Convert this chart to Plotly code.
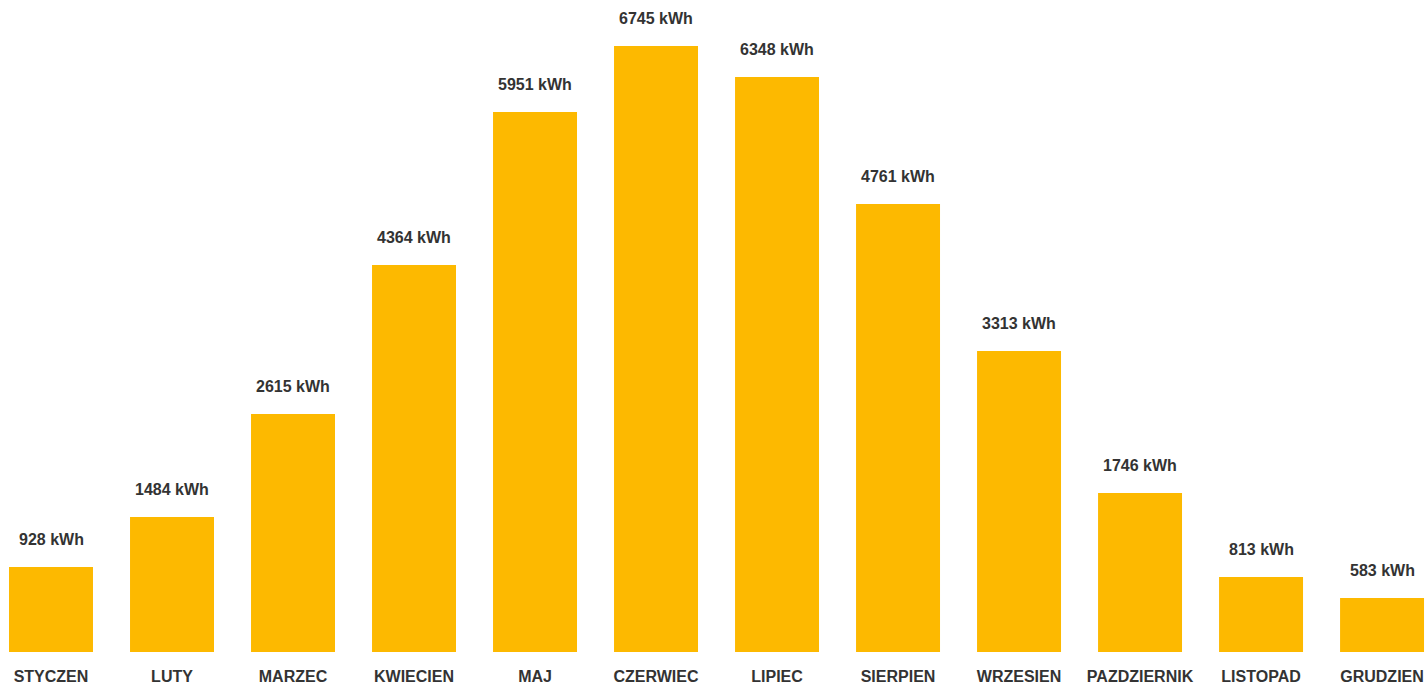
import plotly.graph_objects as go

months = ["STYCZEN", "LUTY", "MARZEC", "KWIECIEN", "MAJ", "CZERWIEC",
          "LIPIEC", "SIERPIEN", "WRZESIEN", "PAZDZIERNIK", "LISTOPAD", "GRUDZIEN"]
# values printed above the bars
energy_kwh = [928, 1484, 2615, 4364, 5951, 6745, 6348, 4761, 3313, 1746, 813, 583]
# bar heights (some bars are not drawn to their labels)
bar_kwh = [934, 1484, 2615, 4253, 5934, 6659, 6319, 4923, 3308, 1747, 824, 593]
labels = [f"{v} kWh" for v in energy_kwh]

BAR = "#FDB900"
TXT = "#333333"
FONT = "Liberation Sans, Arial, sans-serif"

fig = go.Figure(go.Bar(
    x=months, y=bar_kwh, marker=dict(color=BAR, line=dict(width=0)),
    width=0.694, hovertext=labels, hoverinfo="x+text",
))

for m, v, t in zip(months, bar_kwh, labels):
    fig.add_annotation(x=m, y=v, text=f"<b>{t}</b>", showarrow=False,
                       yanchor="bottom", yshift=17,
                       font=dict(family=FONT, size=16, color=TXT))

fig.update_layout(
    width=1425, height=699,
    margin=dict(l=0, r=0, t=20, b=47),
    paper_bgcolor="white", plot_bgcolor="white",
    showlegend=False,
    bargap=0.3,
    xaxis=dict(range=[-0.4215, 11.355], showgrid=False, zeroline=False,
               showline=False, ticks="outside", ticklen=10,
               tickcolor="rgba(0,0,0,0)",
               tickfont=dict(family=FONT, size=16, color=TXT),
               tickvals=months, ticktext=[f"<b>{m}</b>" for m in months]),
    yaxis=dict(range=[0, 6945], showgrid=False, zeroline=False,
               showline=False, showticklabels=False, fixedrange=True),
)

fig.write_html("out.html", config={"displayModeBar": False},
               post_script="document.body.style.margin='0';document.body.style.overflow='hidden';")
